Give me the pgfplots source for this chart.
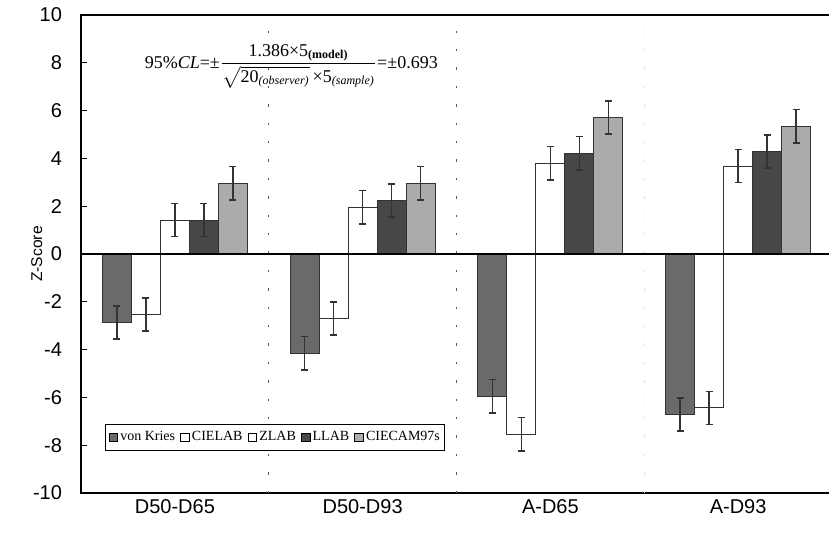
\documentclass[border=0pt]{standalone}
\usepackage{pgfplots}
\pgfplotsset{compat=1.18}
\usepackage{amsmath}
\usepackage{fontspec}
\setmainfont{Liberation Sans}
\newfontfamily\tms{Liberation Serif}
\definecolor{cvk}{HTML}{6A6A6A}
\definecolor{cllab}{HTML}{474747}
\definecolor{ccam}{HTML}{ABABAB}
\definecolor{cedge}{HTML}{333333}
\begin{document}
\begin{tikzpicture}
\begin{axis}[
  scale only axis,
  width=375.5pt, height=239pt,
  xmin=-0.5, xmax=3.5,
  ymin=-10, ymax=10,
  ytick={-10,-8,...,10},
  xtick={0,1,2,3},
  xticklabels={D50-D65,D50-D93,A-D65,A-D93},
  x tick style={draw=none},
  y tick style={black, line width=0.6pt},
  major tick length=3pt,
  tick align=inside,
  ytick pos=left,
  axis line style={black, line width=0.9pt},
  /pgf/number format/assume math mode=true,
  yticklabel style={font=\fontsize{10}{12}\selectfont, xshift=-6pt},
  xticklabel style={font=\fontsize{10}{12}\selectfont, yshift=3.5pt},
  ylabel={Z-Score},
  ylabel style={font=\fontsize{7.8}{9}\selectfont, at={(axis description cs:-0.059,0.5)}, anchor=center},
  ybar=0pt,
  bar width=14.5pt,
  legend columns=5,
  legend style={at={(axis description cs:0.032,0.116)}, anchor=west,
    font=\tms\fontsize{7}{8}\selectfont, draw=black, line width=0.5pt,
    inner xsep=1.5pt, inner ysep=1.5pt,
    nodes={inner xsep=1pt},
    /tikz/every even column/.style={column sep=1.5pt}},
  legend image code/.code={\draw[#1, draw=black, line width=0.5pt] (0pt,-2.2pt) rectangle (4.4pt,2.2pt);},
  error bars/y dir=both,
  error bars/y explicit,
  error bars/error bar style={cedge, line width=0.8pt},
  error bars/error mark options={rotate=90, mark size=1.8pt, cedge, line width=0.8pt},
]
\draw[dash pattern=on 1.2pt off 8pt, gray!70!black, line width=0.6pt] (axis cs:0.5,-10) -- (axis cs:0.5,10);
\draw[dash pattern=on 1.2pt off 8pt, gray!70!black, line width=0.6pt] (axis cs:1.5,-10) -- (axis cs:1.5,10);
\draw[dash pattern=on 1.2pt off 8pt, gray!25, line width=0.5pt] (axis cs:2.5,-10) -- (axis cs:2.5,10);
\addplot[fill=cvk, draw=cedge, line width=0.5pt] coordinates {
  (0,-2.86) +- (0,0.693)
  (1,-4.15) +- (0,0.693)
  (2,-5.95) +- (0,0.693)
  (3,-6.72) +- (0,0.693)};
\addplot[fill=white, draw=cedge, line width=0.5pt] coordinates {
  (0,-2.54) +- (0,0.693)
  (1,-2.70) +- (0,0.693)
  (2,-7.54) +- (0,0.693)
  (3,-6.44) +- (0,0.693)};
\addplot[fill=white, draw=cedge, line width=0.5pt] coordinates {
  (0,1.42) +- (0,0.693)
  (1,1.96) +- (0,0.693)
  (2,3.80) +- (0,0.693)
  (3,3.68) +- (0,0.693)};
\addplot[fill=cllab, draw=cedge, line width=0.5pt] coordinates {
  (0,1.42) +- (0,0.693)
  (1,2.24) +- (0,0.693)
  (2,4.22) +- (0,0.693)
  (3,4.28) +- (0,0.693)};
\addplot[fill=ccam, draw=cedge, line width=0.5pt] coordinates {
  (0,2.96) +- (0,0.693)
  (1,2.96) +- (0,0.693)
  (2,5.72) +- (0,0.693)
  (3,5.35) +- (0,0.693)};
\legend{von Kries,CIELAB,ZLAB,LLAB,CIECAM97s}
\draw[black, line width=0.7pt] (axis cs:-0.5,0) -- (axis cs:3.5,0);
\node[anchor=center, font=\tms\fontsize{9}{10}\selectfont, inner sep=0pt] at (axis cs:0.62,7.85)
  {95\%\textit{CL}=±$\dfrac{\text{1.386×5\textsubscript{\textbf{(model)}}}}{\sqrt{\text{20\textsubscript{\textit{(observer)}}}}\text{\,×5\textsubscript{\textit{(sample)}}}}$=±0.693};
\end{axis}
\pgfresetboundingbox
\path[use as bounding box] ([xshift=-40.5pt,yshift=-24.5pt]current axis.south west) rectangle ([xshift=374pt,yshift=246.5pt]current axis.south west);
\end{tikzpicture}
\end{document}
